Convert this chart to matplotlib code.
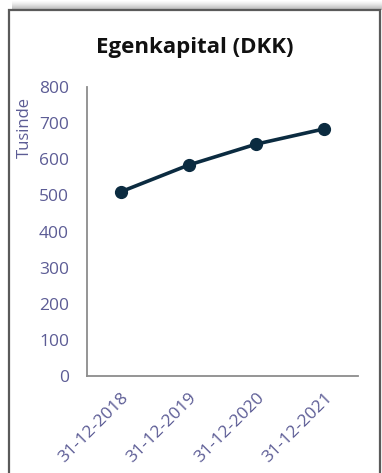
import matplotlib
matplotlib.use("Agg")
import matplotlib.pyplot as plt
from matplotlib.patches import Rectangle

categories = ["31-12-2018", "31-12-2019", "31-12-2020", "31-12-2021"]
values = [510, 584, 642, 684]
yticks = [0, 100, 200, 300, 400, 500, 600, 700, 800]

W, H = 382, 473
fig = plt.figure(figsize=(W / 100, H / 100), dpi=100)
fig.patch.set_facecolor("white")

def fx(x):
    return x / W

def fy(y):
    return 1 - y / H

# shadow above frame
for i in range(10):
    alpha = (i / 10) ** 1.3 * 0.6
    fig.patches.append(Rectangle((fx(12), fy(i + 1)), fx(370), 1 / H,
                                 transform=fig.transFigure, facecolor="#707070",
                                 alpha=alpha, edgecolor="none"))
# frame
fig.patches.append(Rectangle((fx(9), fy(490)), fx(371), (490 - 10) / H,
                             transform=fig.transFigure, facecolor="none",
                             edgecolor="#5a5a5a", linewidth=1.6, clip_on=False))

ax = fig.add_axes([fx(87), fy(376), fx(358 - 87), (376 - 87) / H])
ax.set_facecolor("none")
x = list(range(len(categories)))
ax.plot(x, values, color="#0b2b40", linewidth=2.6, marker="o", markersize=8.5,
        solid_capstyle="round")
ax.set_xlim(-0.5, len(categories) - 0.5)
ax.set_ylim(0, 800)
ax.set_yticks(yticks)
ax.set_yticklabels([str(v) for v in yticks])
ax.set_xticks(x)
ax.set_xticklabels(categories, rotation=45, ha="right", rotation_mode="anchor")

label_color = "#5c5c95"
for lab in ax.get_yticklabels():
    lab.set_fontfamily("Open Sans")
    lab.set_fontsize(12.5)
    lab.set_color(label_color)
for lab in ax.get_xticklabels():
    lab.set_fontfamily("Open Sans")
    lab.set_fontsize(12.5)
    lab.set_color(label_color)
ax.tick_params(axis="y", length=0, pad=13)
ax.tick_params(axis="x", length=0, pad=10)

for s in ["top", "right"]:
    ax.spines[s].set_visible(False)
for s in ["left", "bottom"]:
    ax.spines[s].set_color("#8c8c8c")
    ax.spines[s].set_linewidth(1.3)

fig.text(fx(195), fy(47), "Egenkapital (DKK)", ha="center", va="center",
         fontsize=16, fontweight="bold", family="Open Sans", color="#111111")
fig.text(fx(25), fy(127), "Tusinde", ha="center", va="center", rotation=90,
         fontsize=12, family="Open Sans", color=label_color)

fig.savefig("out.png", dpi=100)
